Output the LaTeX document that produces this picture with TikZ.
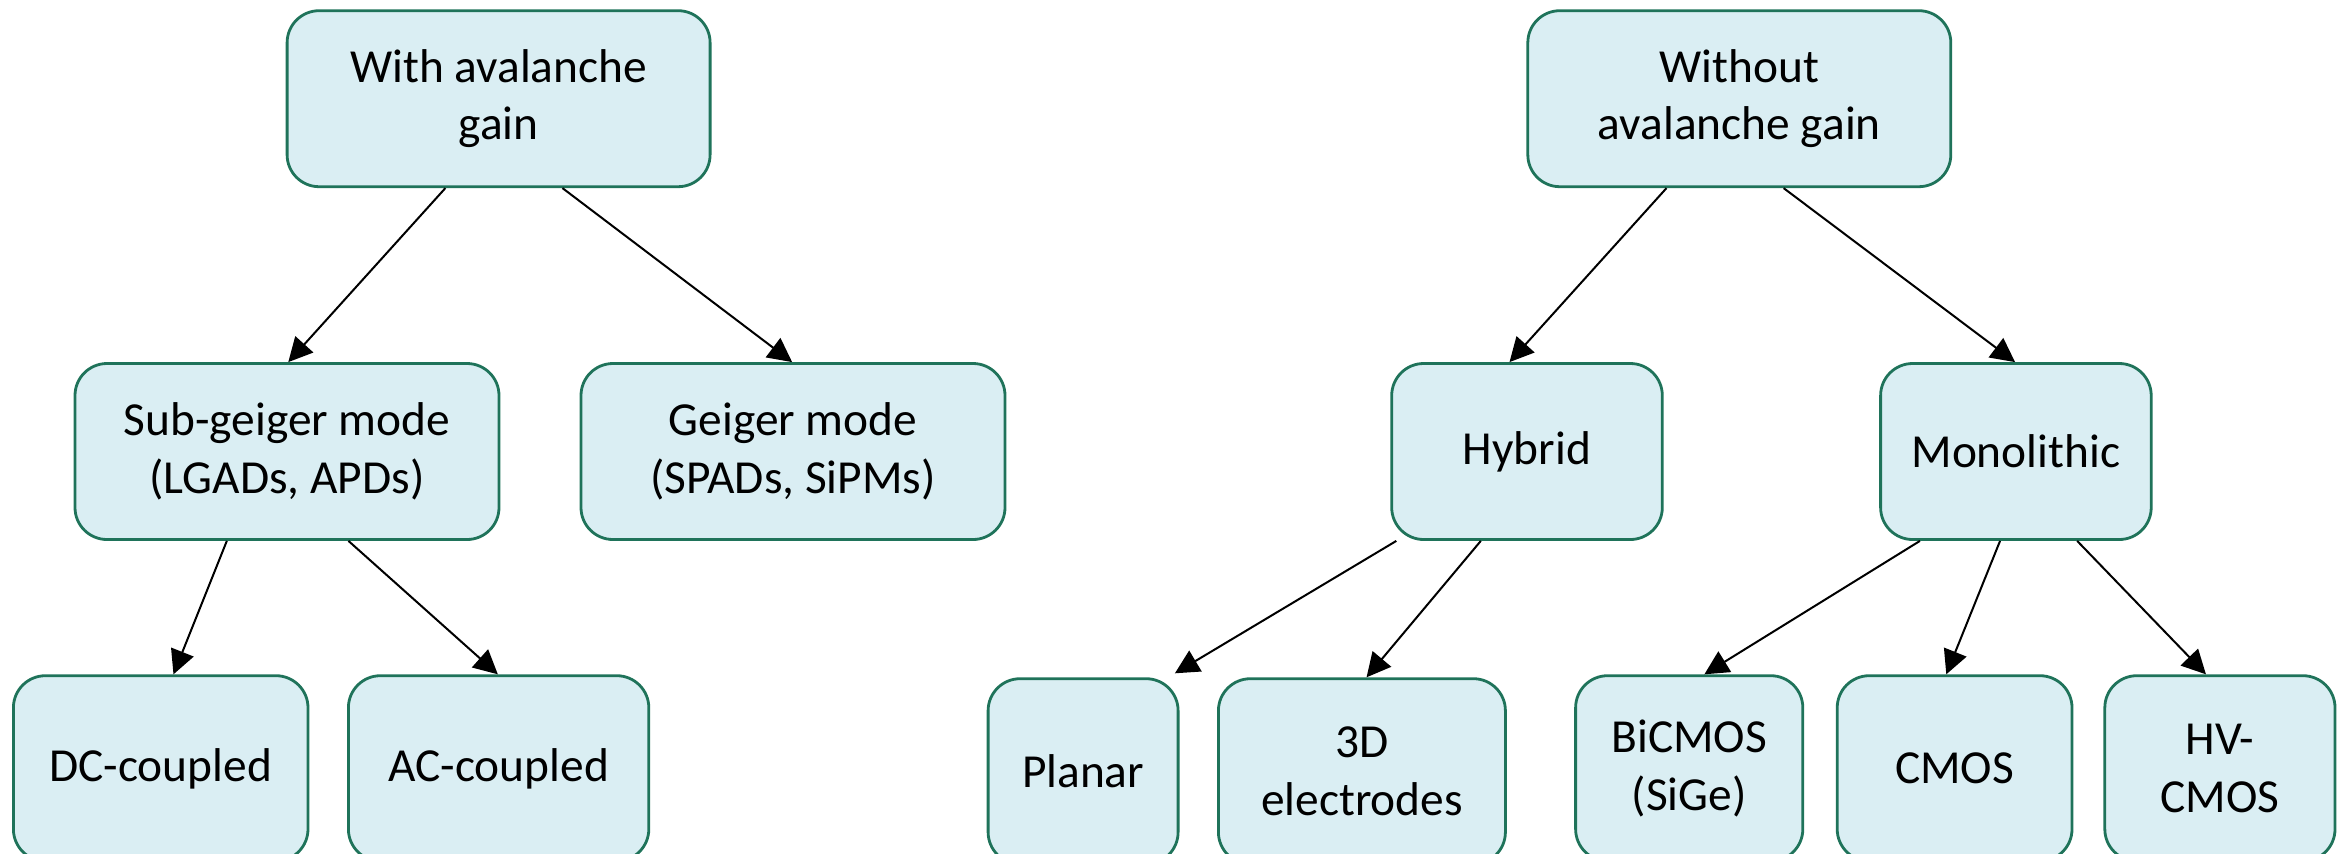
\documentclass[tikz,border=0pt]{standalone}
\usepackage{fontspec}
\setmainfont{Carlito}
\usetikzlibrary{arrows.meta,calc}

\definecolor{boxfill}{RGB}{218,238,243}
\definecolor{boxline}{RGB}{31,115,90}

\tikzset{
  catbox/.style={draw=boxline, fill=boxfill, line width=1.4pt,
    rounded corners=16pt, align=center, inner sep=0pt,
    minimum height=88pt,
    font=\fontsize{23.7}{28.7}\selectfont},
  leafbox/.style={catbox, minimum height=92.7pt},
  link/.style={draw=black, line width=1pt,
    -{Triangle[length=12pt,width=12pt]}}
}

% coordinates are given in pixels: 1 unit = 0.5pt, y grows downwards
\begin{document}
\begin{tikzpicture}[x=0.5pt,y=-0.5pt]
\useasboundingbox (0,0) rectangle (2344,853);

% top level
\node[catbox, minimum width=211.5pt] (gain)   at (498.6,98.7)  {With avalanche\\gain};
\node[catbox, minimum width=211.5pt] (nogain) at (1739.3,98.7) {Without\\avalanche gain};

% second level
\node[catbox, minimum width=212pt]   (sub)    at (287.0,451.5)  {Sub-geiger mode\\(LGADs, APDs)};
\node[catbox, minimum width=212pt]   (geiger) at (793.0,451.5)  {Geiger mode\\(SPADs, SiPMs)};
\node[catbox, minimum width=135.3pt] (hybrid) at (1527.0,451.5) {Hybrid};
\node[catbox, minimum width=135.3pt] (mono)   at (2015.9,451.5) {Monolithic};

% third level
\node[leafbox, minimum width=147.3pt] (dc)     at (160.7,768.4)  {DC-coupled};
\node[leafbox, minimum width=150.2pt] (ac)     at (498.6,768.4)  {AC-coupled};
\node[leafbox, minimum width=95pt]    (planar) at (1083.1,771.4) {Planar};
\node[leafbox, minimum width=143.5pt] (threed) at (1361.9,771.4) {3D\\electrodes};
\node[leafbox, minimum width=113.6pt] (bicmos) at (1689.2,768.4) {BiCMOS\\(SiGe)};
\node[leafbox, minimum width=117.4pt] (cmos)   at (1954.6,768.4) {CMOS};
\node[leafbox, minimum width=115.1pt] (hv)     at (2219.9,768.4) {HV-\\CMOS};

% connectors
\draw[link] ($(gain.south west)!0.375!(gain.south east)$) -- ($(sub.north west)!0.503!(sub.north east)$);
\draw[link] ($(gain.south west)!0.65!(gain.south east)$) -- ($(geiger.north west)!0.498!(geiger.north east)$);
\draw[link] ($(nogain.south west)!0.329!(nogain.south east)$) -- ($(hybrid.north west)!0.436!(hybrid.north east)$);
\draw[link] ($(nogain.south west)!0.604!(nogain.south east)$) -- ($(mono.north west)!0.497!(mono.north east)$);

\draw[link] ($(sub.south west)!0.359!(sub.south east)$) -- ($(dc.north west)!0.543!(dc.north east)$);
\draw[link] ($(sub.south west)!0.644!(sub.south east)$) -- ($(ac.north west)!0.4975!(ac.north east)$);

\draw[link] ($(hybrid.south west)!0.022!(hybrid.south east)$) -- ($(planar.north west)!0.976!(planar.north east)+(0,-4)$);
\draw[link] ($(hybrid.south west)!0.331!(hybrid.south east)$) -- ($(threed.north west)!0.516!(threed.north east)$);

\draw[link] ($(mono.south west)!0.149!(mono.south east)$) -- ($(bicmos.north west)!0.566!(bicmos.north east)$);
\draw[link] ($(mono.south west)!0.442!(mono.south east)$) -- ($(cmos.north west)!0.465!(cmos.north east)$);
\draw[link] ($(mono.south west)!0.724!(mono.south east)$) -- ($(hv.north west)!0.44!(hv.north east)$);
\end{tikzpicture}
\end{document}
